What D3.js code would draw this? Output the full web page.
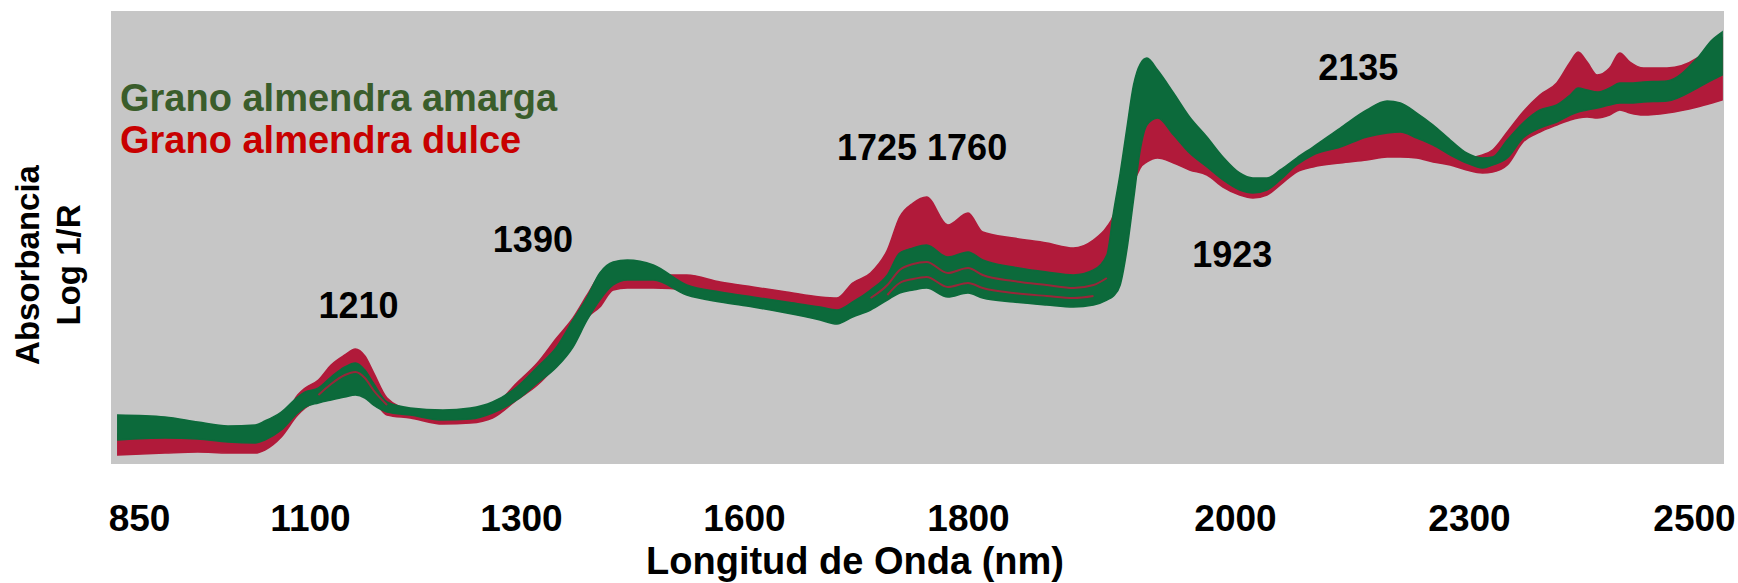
<!DOCTYPE html>
<html>
<head>
<meta charset="utf-8">
<script src="https://cdn.jsdelivr.net/npm/d3@7/dist/d3.min.js"></script>
<style>
    body { margin: 0; background: #fff; }
    text { font-family: "Liberation Sans", Arial, sans-serif; font-weight: bold; }
</style>
</head>
<body>
<div id="chart-area"></div>
<script>
/*
*    espectros NIR - almendra amarga vs dulce
*/

// Wavelength (nm, as printed on the axis) of every sampled point
var wavelengths = [819, 888, 936, 980, 1020, 1034, 1058, 1082, 1093, 1108, 1120, 1133, 1143, 1152, 1160, 1173,
    1195, 1226, 1252, 1273, 1296, 1322, 1348, 1370, 1389, 1406, 1424, 1443, 1478, 1523, 1568, 1608, 1638,
    1668, 1683, 1697, 1713, 1728, 1739, 1751, 1763, 1782, 1800, 1811, 1834, 1859, 1879, 1894, 1904, 1909,
    1914, 1919, 1924, 1929, 1934, 1942, 1954, 1966, 1979, 1991, 2006, 2023, 2041, 2058, 2079, 2100, 2135,
    2169, 2195, 2212, 2233, 2254, 2276, 2297, 2312, 2321, 2334, 2348, 2363, 2378, 2390, 2397, 2405, 2414,
    2425, 2434, 2443, 2455, 2476, 2503, 2516, 2525];

// Grano almendra amarga: upper and lower envelope of the spectra (log 1/R)
var amargaMax = [0.198, 0.194, 0.184, 0.176, 0.178, 0.186, 0.204, 0.234, 0.244, 0.252, 0.274, 0.294, 0.302, 0.288, 0.262, 0.224,
    0.212, 0.208, 0.212, 0.224, 0.254, 0.294, 0.334, 0.388, 0.434, 0.482, 0.504, 0.508, 0.498, 0.458, 0.444, 0.434, 0.424,
    0.414, 0.408, 0.424, 0.448, 0.478, 0.522, 0.532, 0.538, 0.514, 0.524, 0.508, 0.494, 0.484, 0.478, 0.488, 0.518, 0.604,
    0.682, 0.772, 0.858, 0.900, 0.912, 0.888, 0.842, 0.794, 0.754, 0.714, 0.682, 0.672, 0.672, 0.688, 0.712, 0.734, 0.772,
    0.808, 0.826, 0.822, 0.802, 0.778, 0.748, 0.722, 0.712, 0.714, 0.748, 0.782, 0.808, 0.818, 0.838, 0.852, 0.848, 0.844,
    0.852, 0.862, 0.862, 0.864, 0.866, 0.912, 0.948, 0.964];
var amargaMin = [0.148, 0.152, 0.150, 0.144, 0.142, 0.148, 0.168, 0.202, 0.214, 0.222, 0.228, 0.234, 0.238, 0.232, 0.218, 0.204,
    0.198, 0.188, 0.190, 0.202, 0.228, 0.262, 0.294, 0.334, 0.388, 0.428, 0.458, 0.468, 0.468, 0.438, 0.424, 0.414, 0.402,
    0.388, 0.380, 0.394, 0.408, 0.428, 0.442, 0.448, 0.452, 0.434, 0.442, 0.432, 0.424, 0.418, 0.414, 0.418, 0.428, 0.436,
    0.458, 0.528, 0.628, 0.728, 0.778, 0.792, 0.758, 0.722, 0.694, 0.668, 0.648, 0.642, 0.648, 0.668, 0.698, 0.718, 0.734,
    0.754, 0.762, 0.764, 0.752, 0.738, 0.718, 0.702, 0.692, 0.698, 0.712, 0.752, 0.772, 0.784, 0.798, 0.804, 0.808, 0.812,
    0.818, 0.822, 0.822, 0.824, 0.826, 0.852, 0.868, 0.878];

// Grano almendra dulce: upper and lower envelope of the spectra (log 1/R)
var dulceMax = [0.160, 0.164, 0.162, 0.156, 0.154, 0.160, 0.180, 0.238, 0.252, 0.268, 0.298, 0.318, 0.330, 0.316, 0.284, 0.232,
    0.208, 0.200, 0.202, 0.214, 0.262, 0.302, 0.352, 0.392, 0.438, 0.478, 0.492, 0.496, 0.478, 0.478, 0.464, 0.454, 0.444,
    0.434, 0.432, 0.462, 0.482, 0.528, 0.594, 0.622, 0.634, 0.578, 0.602, 0.564, 0.552, 0.542, 0.532, 0.548, 0.574, 0.598,
    0.658, 0.728, 0.788, 0.818, 0.828, 0.808, 0.768, 0.734, 0.704, 0.678, 0.658, 0.652, 0.658, 0.678, 0.708, 0.728, 0.748,
    0.768, 0.778, 0.778, 0.768, 0.748, 0.728, 0.712, 0.718, 0.728, 0.764, 0.804, 0.838, 0.862, 0.904, 0.924, 0.904, 0.878,
    0.892, 0.922, 0.904, 0.892, 0.892, 0.912, 0.938, 0.952];
var dulceMin = [0.118, 0.122, 0.124, 0.122, 0.122, 0.128, 0.154, 0.198, 0.212, 0.228, 0.236, 0.242, 0.244, 0.238, 0.228, 0.198,
    0.192, 0.180, 0.182, 0.192, 0.228, 0.258, 0.298, 0.338, 0.392, 0.414, 0.448, 0.452, 0.452, 0.448, 0.432, 0.422, 0.410,
    0.398, 0.392, 0.404, 0.418, 0.438, 0.452, 0.458, 0.462, 0.444, 0.452, 0.442, 0.434, 0.428, 0.424, 0.428, 0.436, 0.444,
    0.488, 0.578, 0.658, 0.692, 0.704, 0.712, 0.702, 0.688, 0.678, 0.654, 0.638, 0.632, 0.638, 0.658, 0.684, 0.694, 0.702,
    0.708, 0.714, 0.714, 0.712, 0.704, 0.698, 0.688, 0.682, 0.684, 0.698, 0.744, 0.764, 0.778, 0.788, 0.792, 0.794, 0.792,
    0.798, 0.808, 0.802, 0.798, 0.802, 0.814, 0.822, 0.828];

// Single dulce spectra that show through the amarga band
var strayWl1 = [1713, 1728, 1739, 1751, 1763, 1782, 1800, 1811, 1834, 1859, 1879, 1894, 1904];
var strayAbs1 = [0.432, 0.458, 0.488, 0.500, 0.504, 0.482, 0.492, 0.478, 0.466, 0.458, 0.452, 0.458, 0.472];
var strayWl2 = [1728, 1739, 1751, 1763, 1782, 1800, 1811, 1834, 1859, 1879, 1894];
var strayAbs2 = [0.438, 0.462, 0.470, 0.474, 0.454, 0.462, 0.452, 0.442, 0.436, 0.432, 0.436];
var strayWl3 = [1108, 1120, 1133, 1143, 1152, 1160, 1173];
var strayAbs3 = [0.238, 0.260, 0.278, 0.284, 0.272, 0.248, 0.218];

// Axis labels as printed (they are not evenly spaced)
var tickValues = [850, 1100, 1300, 1600, 1800, 2000, 2300, 2500];
var tickOffsets = [28, 199, 410, 633, 857, 1124, 1358, 1583];

// Band labels
var bandLabels = ["1210", "1390", "1725 1760", "1923", "2135"];
var bandWavelengths = [1146, 1316, 1759, 1998, 2158];
var bandAbsorbance = [0.392, 0.524, 0.708, 0.494, 0.868];

var groups = ["Grano almendra amarga", "Grano almendra dulce"];

var margin = {top: 11, right: 14, bottom: 119, left: 111},
    width = 1738 - margin.left - margin.right,
    height = 583 - margin.top - margin.bottom;

var svg = d3.select("#chart-area").append("svg")
    .attr("width", width + margin.left + margin.right)
    .attr("height", height + margin.top + margin.bottom);

var g = svg.append("g")
    .attr("transform", "translate(" + margin.left + "," + margin.top + ")");

// Scales
var x = d3.scaleLinear().domain(tickValues).range(tickOffsets);
var y = d3.scaleLinear().domain([0.1, 1.0]).range([height, 3]);

var lineColor = {amarga: "#0c6a3b", dulce: "#b11a3a"};
var textColor = ["#3a5d2b", "#c80000"];

// Plot background
g.append("rect")
    .attr("width", width)
    .attr("height", height)
    .attr("fill", "#c6c6c6");

// Band generator
var band = d3.area()
    .x(function(d){ return x(d.wl); })
    .y0(function(d){ return y(d.lo); })
    .y1(function(d){ return y(d.hi); })
    .curve(d3.curveMonotoneX);

var line = d3.line()
    .x(function(d){ return x(d[0]); })
    .y(function(d){ return y(d[1]); })
    .curve(d3.curveMonotoneX);

var dulceData = wavelengths.map(function(wl, i){ return {wl: wl, hi: dulceMax[i], lo: dulceMin[i]}; });
var amargaData = wavelengths.map(function(wl, i){ return {wl: wl, hi: amargaMax[i], lo: amargaMin[i]}; });

// dulce underneath, amarga drawn over it
g.append("path")
    .datum(dulceData)
    .attr("fill", lineColor.dulce)
    .attr("stroke", lineColor.dulce)
    .attr("stroke-width", 1.5)
    .attr("d", band);

g.append("path")
    .datum(amargaData)
    .attr("fill", lineColor.amarga)
    .attr("stroke", lineColor.amarga)
    .attr("stroke-width", 1.5)
    .attr("d", band);

// a few dulce spectra on top
var strays = [d3.zip(strayWl1, strayAbs1), d3.zip(strayWl2, strayAbs2), d3.zip(strayWl3, strayAbs3)];

g.selectAll(".stray")
    .data(strays)
    .enter()
    .append("path")
    .attr("class", "stray")
    .attr("fill", "none")
    .attr("stroke", lineColor.dulce)
    .attr("stroke-width", 2)
    .attr("stroke-opacity", 0.85)
    .attr("d", line);

// X axis
var xAxis = g.append("g")
    .attr("class", "x axis")
    .attr("transform", "translate(0," + height + ")")
    .call(d3.axisBottom(x).tickValues(tickValues).tickSize(0).tickPadding(41).tickFormat(d3.format("d")));

xAxis.select(".domain").remove();
xAxis.selectAll("text")
    .attr("fill", "#000")
    .style("font-size", "37px");

// X label
svg.append("text")
    .attr("x", 855)
    .attr("y", 574)
    .attr("text-anchor", "middle")
    .style("font-size", "38px")
    .text("Longitud de Onda (nm)");

// Y label (two lines)
var yLabel = svg.append("text")
    .attr("transform", "translate(0,265) rotate(-90)")
    .attr("text-anchor", "middle")
    .style("font-size", "33px");

yLabel.append("tspan").attr("x", 0).attr("y", 39).text("Absorbancia");
yLabel.append("tspan").attr("x", 0).attr("y", 80).text("Log 1/R");

// Band annotations
g.selectAll(".band-label")
    .data(bandLabels)
    .enter()
    .append("text")
    .attr("class", "band-label")
    .attr("x", function(d, i){ return x(bandWavelengths[i]); })
    .attr("y", function(d, i){ return y(bandAbsorbance[i]); })
    .attr("text-anchor", "middle")
    .style("font-size", "36px")
    .text(function(d){ return d; });

// Legend
var legend = svg.append("g")
    .attr("transform", "translate(120,111)");

legend.selectAll(".legend-row")
    .data(groups)
    .enter()
    .append("text")
    .attr("class", "legend-row")
    .attr("y", function(d, i){ return i * 42; })
    .attr("fill", function(d, i){ return textColor[i]; })
    .style("font-size", "38px")
    .text(function(d){ return d; });
</script>
</body>
</html>
